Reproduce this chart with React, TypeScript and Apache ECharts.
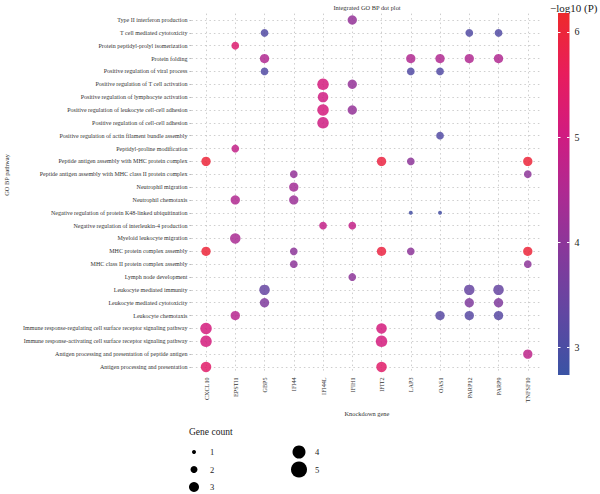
import React, { useEffect, useRef } from "react";
import * as echarts from "echarts";

const FONT = "'Liberation Serif', 'Times New Roman', serif";

const genes = [
  "CXCL10", "EPSTI1", "GBP5", "IFI44", "IFI44L", "IFIH1",
  "IFIT2", "LAP3", "OAS1", "PARP12", "PARP9", "TNFSF10",
];

// GO BP terms, listed top to bottom
const pathways = [
  "Type II interferon production",
  "T cell mediated cytotoxicity",
  "Protein peptidyl-prolyl isomerization",
  "Protein folding",
  "Positive regulation of viral process",
  "Positive regulation of T cell activation",
  "Positive regulation of lymphocyte activation",
  "Positive regulation of leukocyte cell-cell adhesion",
  "Positive regulation of cell-cell adhesion",
  "Positive regulation of actin filament bundle assembly",
  "Peptidyl-proline modification",
  "Peptide antigen assembly with MHC protein complex",
  "Peptide antigen assembly with MHC class II protein complex",
  "Neutrophil migration",
  "Neutrophil chemotaxis",
  "Negative regulation of protein K48-linked ubiquitination",
  "Negative regulation of interleukin-4 production",
  "Myeloid leukocyte migration",
  "MHC protein complex assembly",
  "MHC class II protein complex assembly",
  "Lymph node development",
  "Leukocyte mediated immunity",
  "Leukocyte mediated cytotoxicity",
  "Leukocyte chemotaxis",
  "Immune response-regulating cell surface receptor signaling pathway",
  "Immune response-activating cell surface receptor signaling pathway",
  "Antigen processing and presentation of peptide antigen",
  "Antigen processing and presentation",
];

// Enriched terms per knockdown gene: [term, gene count, -log10(P)]
const cxcl10Terms: [string, number, number][] = [
  ["Peptide antigen assembly with MHC protein complex", 3, 6.0],
  ["MHC protein complex assembly", 3, 6.0],
  ["Immune response-regulating cell surface receptor signaling pathway", 5, 5.1],
  ["Immune response-activating cell surface receptor signaling pathway", 5, 5.1],
  ["Antigen processing and presentation", 4, 5.4],
];
const epsti1Terms: [string, number, number][] = [
  ["Protein peptidyl-prolyl isomerization", 2, 5.3],
  ["Peptidyl-proline modification", 2, 4.8],
  ["Neutrophil chemotaxis", 3, 4.5],
  ["Myeloid leukocyte migration", 4, 4.4],
  ["Leukocyte chemotaxis", 3, 4.6],
];
const gbp5Terms: [string, number, number][] = [
  ["T cell mediated cytotoxicity", 2, 3.1],
  ["Protein folding", 3, 4.5],
  ["Positive regulation of viral process", 2, 3.1],
  ["Leukocyte mediated immunity", 4, 3.4],
  ["Leukocyte mediated cytotoxicity", 3, 3.8],
];
const ifi44Terms: [string, number, number][] = [
  ["Peptide antigen assembly with MHC class II protein complex", 2, 4.1],
  ["Neutrophil migration", 3, 4.3],
  ["Neutrophil chemotaxis", 3, 4.2],
  ["MHC protein complex assembly", 2, 4.0],
  ["MHC class II protein complex assembly", 2, 4.0],
];
const ifi44lTerms: [string, number, number][] = [
  ["Positive regulation of T cell activation", 5, 5.1],
  ["Positive regulation of lymphocyte activation", 4, 5.0],
  ["Positive regulation of leukocyte cell-cell adhesion", 5, 5.1],
  ["Positive regulation of cell-cell adhesion", 5, 5.0],
  ["Negative regulation of interleukin-4 production", 2, 4.8],
];
const ifih1Terms: [string, number, number][] = [
  ["Type II interferon production", 3, 4.1],
  ["Positive regulation of T cell activation", 3, 4.1],
  ["Positive regulation of leukocyte cell-cell adhesion", 3, 4.1],
  ["Negative regulation of interleukin-4 production", 2, 4.8],
  ["Lymph node development", 2, 4.0],
];
const ifit2Terms: [string, number, number][] = [
  ["Peptide antigen assembly with MHC protein complex", 3, 5.9],
  ["MHC protein complex assembly", 3, 5.9],
  ["Immune response-regulating cell surface receptor signaling pathway", 4, 5.1],
  ["Immune response-activating cell surface receptor signaling pathway", 5, 5.1],
  ["Antigen processing and presentation", 4, 5.4],
];
const lap3Terms: [string, number, number][] = [
  ["Protein folding", 3, 4.5],
  ["Positive regulation of viral process", 2, 3.1],
  ["Peptide antigen assembly with MHC protein complex", 2, 4.0],
  ["Negative regulation of protein K48-linked ubiquitination", 1, 2.9],
  ["MHC protein complex assembly", 2, 4.0],
];
const oas1Terms: [string, number, number][] = [
  ["Protein folding", 3, 4.5],
  ["Positive regulation of viral process", 2, 3.1],
  ["Positive regulation of actin filament bundle assembly", 2, 3.1],
  ["Negative regulation of protein K48-linked ubiquitination", 1, 2.9],
  ["Leukocyte chemotaxis", 3, 3.2],
];
const parp12Terms: [string, number, number][] = [
  ["T cell mediated cytotoxicity", 2, 3.1],
  ["Protein folding", 3, 4.5],
  ["Leukocyte mediated immunity", 4, 3.4],
  ["Leukocyte mediated cytotoxicity", 3, 3.8],
  ["Leukocyte chemotaxis", 3, 3.2],
];
const parp9Terms: [string, number, number][] = [
  ["T cell mediated cytotoxicity", 2, 3.1],
  ["Protein folding", 3, 4.5],
  ["Leukocyte mediated immunity", 4, 3.4],
  ["Leukocyte mediated cytotoxicity", 3, 3.8],
  ["Leukocyte chemotaxis", 3, 3.2],
];
const tnfsf10Terms: [string, number, number][] = [
  ["Peptide antigen assembly with MHC protein complex", 3, 6.0],
  ["Peptide antigen assembly with MHC class II protein complex", 2, 4.0],
  ["MHC protein complex assembly", 3, 6.0],
  ["MHC class II protein complex assembly", 2, 4.0],
  ["Antigen processing and presentation of peptide antigen", 3, 4.7],
];

const termsByGene = [
  cxcl10Terms, epsti1Terms, gbp5Terms, ifi44Terms, ifi44lTerms, ifih1Terms,
  ifit2Terms, lap3Terms, oas1Terms, parp12Terms, parp9Terms, tnfsf10Terms,
];

// colour scale for -log10(P)
const colorMin = 2.74;
const colorMax = 6.18;
const colorTicks = [3, 4, 5, 6];
const colorRamp = ["#3a53a4", "#6047a2", "#85399b", "#ad2a92", "#d11b80", "#e81d5c", "#ee2a2b"];

// size legend entries
const countBreaks = [1, 2, 3, 4, 5];

const dotSize = (count: number) => 4 + 7.5 * Math.sqrt((count - 1) / 4);
const legendSize = (count: number) => 4 + 3 * (count - 1);

export default function App() {
  const ref = useRef<HTMLDivElement>(null);

  useEffect(() => {
    if (!ref.current) return;
    const chart = echarts.init(ref.current, undefined, { renderer: "svg" });

    const dots: [string, string, number, number][] = [];
    genes.forEach((g, i) => {
      termsByGene[i].forEach(([term, count, logp]) => dots.push([g, term, logp, count]));
    });

    const barGradient = new echarts.graphic.LinearGradient(
      0, 0, 0, 1,
      colorRamp.map((c, i) => ({ offset: i / (colorRamp.length - 1), color: colorRamp[colorRamp.length - 1 - i] }))
    );

    const gridLineStyle = { color: "#c2c2c2", type: [1.5, 3] as number[], width: 0.8 };

    const legendGraphics: any[] = [
      {
        type: "text", left: 189, top: 427,
        style: { text: "Gene count", font: `9.5px ${FONT}`, fill: "#222" },
      },
    ];
    countBreaks.forEach((c, i) => {
      const col = i < 3 ? 0 : 1;
      const row = i < 3 ? i : i - 3;
      const cx = col === 0 ? 194 : 299;
      const cy = 452 + row * 17.5;
      legendGraphics.push({
        type: "circle",
        shape: { cx, cy, r: legendSize(c) / 2 },
        style: { fill: "#000" },
      });
      legendGraphics.push({
        type: "text", x: cx + 16, y: cy,
        style: { text: String(c), font: `8.5px ${FONT}`, fill: "#222", verticalAlign: "middle" },
      });
    });

    chart.setOption({
      animation: false,
      backgroundColor: "#fff",
      textStyle: { fontFamily: FONT },
      grid: [
        { left: 191.4, top: 13.6, width: 351, height: 359.8 },
        { left: 558, top: 13, width: 11.5, height: 362 },
      ],
      xAxis: [
        {
          type: "category", gridIndex: 0, data: genes, boundaryGap: true,
          axisLine: { show: false }, axisTick: { show: false }, splitLine: { show: false },
          axisLabel: { rotate: 90, fontSize: 6.2, margin: 4, color: "#333", fontFamily: FONT },
          name: "Knockdown gene", nameLocation: "middle", nameGap: 35,
          nameTextStyle: { fontSize: 6.4, color: "#333", fontFamily: FONT },
        },
        {
          type: "category", gridIndex: 1, data: ["bar"], show: false,
        },
      ],
      yAxis: [
        {
          type: "category", gridIndex: 0, data: pathways, inverse: true, boundaryGap: true,
          axisLine: { show: false },
          axisTick: { show: true, alignWithLabel: true, length: 2, lineStyle: { color: "#aaa", width: 0.8 } },
          splitLine: { show: false },
          axisLabel: { fontSize: 6.0, margin: 4, color: "#333", fontFamily: FONT },
        },
        {
          type: "value", gridIndex: 1, min: colorMin, max: colorMax, position: "right", z: 10,
          axisLine: { show: false }, splitLine: { show: false },
          axisTick: {
            show: true, inside: true, length: 2.5, customValues: colorTicks,
            lineStyle: { color: "#fff", width: 1 },
          },
          axisLabel: {
            show: true, customValues: colorTicks, fontSize: 10, margin: 5,
            color: "#222", fontFamily: FONT,
          },
        },
        {
          type: "value", gridIndex: 1, min: colorMin, max: colorMax, position: "left", z: 10,
          axisLine: { show: false }, splitLine: { show: false }, axisLabel: { show: false },
          axisTick: {
            show: true, inside: true, length: 2.5, customValues: colorTicks,
            lineStyle: { color: "#fff", width: 1 },
          },
        },
      ],
      visualMap: {
        type: "continuous", show: false, seriesIndex: 1, dimension: 2,
        min: colorMin, max: colorMax, inRange: { color: colorRamp },
      },
      series: [
        {
          // dotted guide lines through every gene and every term
          type: "scatter", xAxisIndex: 0, yAxisIndex: 0, data: [], z: 1, silent: true,
          markLine: {
            silent: true, symbol: ["none", "none"], z: 1, animation: false,
            label: { show: false }, lineStyle: gridLineStyle,
            emphasis: { disabled: true },
            data: [
              ...genes.map((g) => ({ xAxis: g })),
              ...pathways.map((p) => ({ yAxis: p })),
            ],
          },
        },
        {
          type: "scatter", xAxisIndex: 0, yAxisIndex: 0, z: 3,
          data: dots,
          encode: { x: 0, y: 1 },
          symbol: "circle",
          symbolSize: (v: any) => dotSize(v[3]),
          itemStyle: { opacity: 0.85 },
        },
        {
          // colour bar for -log10(P)
          type: "bar", xAxisIndex: 1, yAxisIndex: 1, data: [colorMax], barWidth: "100%",
          silent: true, z: 2,
          itemStyle: { color: barGradient },
        },
      ],
      graphic: [
        {
          type: "text", x: 367, y: 7,
          style: { text: "Integrated GO BP dot plot", font: `6.4px ${FONT}`, fill: "#333", align: "center", verticalAlign: "middle" },
        },
        {
          type: "text", x: 6, y: 175, rotation: Math.PI / 2,
          style: { text: "GO BP pathway", font: `6.4px ${FONT}`, fill: "#333", align: "center", verticalAlign: "middle" },
        },
        {
          type: "text", x: 550, y: 8,
          style: { text: "\u2212log10 (P)", font: `11px ${FONT}`, fill: "#222", align: "left", verticalAlign: "middle" },
        },
        ...legendGraphics,
      ],
    });

    return () => chart.dispose();
  }, []);

  return (
    <div
      ref={ref}
      style={{ position: "absolute", left: 0, top: 0, width: 600, height: 494 }}
    />
  );
}
